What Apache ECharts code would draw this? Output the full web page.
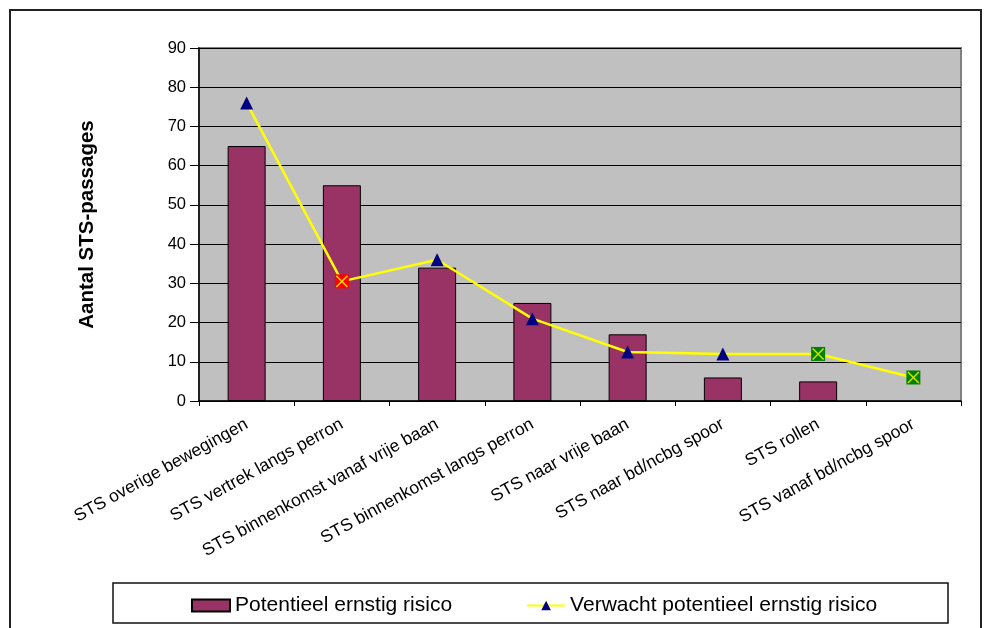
<!DOCTYPE html>
<html>
<head>
<meta charset="utf-8">
<script src="https://cdn.jsdelivr.net/npm/echarts@6/dist/echarts.min.js"></script>
<style>html,body{margin:0;padding:0;background:#fff}#c{width:986px;height:628px}</style>
</head>
<body>
<div id="c"></div>
<script>
const categories = [
  'STS overige bewegingen',
  'STS vertrek langs perron',
  'STS binnenkomst vanaf vrije baan',
  'STS binnenkomst langs perron',
  'STS naar vrije baan',
  'STS naar bd/ncbg spoor',
  'STS rollen',
  'STS vanaf bd/ncbg spoor'
];
const barValues = [65, 55, 34, 25, 17, 6, 5, null];
const lineValues = [76, 30.5, 36, 21, 12.5, 12, 12, 6];
const yTicks = [0, 10, 20, 30, 40, 50, 60, 70, 80, 90];
const barName = 'Potentieel ernstig risico';
const lineName = 'Verwacht potentieel ernstig risico';
const yAxisTitle = 'Aantal STS-passages';

const FONT = "'Liberation Sans', Arial, sans-serif";
// special marker fills per point index
const specialFill = {1: '#ff0000', 6: '#008000', 7: '#008000'};

const chart = echarts.init(document.getElementById('c'), null, {renderer: 'canvas'});
chart.setOption({
  animation: false,
  backgroundColor: '#ffffff',
  textStyle: {fontFamily: FONT},
  grid: {
    left: 199, right: 25, top: 48, bottom: 227,
    show: true, backgroundColor: '#c0c0c0', borderColor: '#808080', borderWidth: 2
  },
  legend: {
    left: 191, top: 595, padding: 0,
    itemWidth: 38, itemHeight: 12, itemGap: 74,
    textStyle: {fontFamily: FONT, fontSize: 21, color: '#000'},
    data: [{name: barName, icon: 'rect'}, {name: lineName}]
  },
  graphic: [
    {type: 'rect', shape: {x: 10, y: 10, width: 971, height: 640}, style: {fill: 'none', stroke: '#222', lineWidth: 2}, silent: true, z: 100},
    {type: 'rect', shape: {x: 113, y: 583, width: 835, height: 40}, style: {fill: 'none', stroke: '#111', lineWidth: 1.5}, silent: true, z: 100}
  ],
  xAxis: {
    type: 'category',
    data: categories,
    boundaryGap: true,
    axisLine: {lineStyle: {color: '#000', width: 1.5}},
    axisTick: {show: true, interval: 0, length: 5, lineStyle: {color: '#000'}},
    axisLabel: {interval: 0, rotate: 29, fontSize: 17.5, color: '#000', fontFamily: FONT, margin: 22}
  },
  yAxis: {
    type: 'value',
    min: yTicks[0], max: yTicks[yTicks.length - 1], interval: yTicks[1] - yTicks[0],
    axisLine: {show: true, lineStyle: {color: '#000', width: 1.5}},
    axisTick: {show: true, length: 9, lineStyle: {color: '#000'}},
    axisLabel: {fontSize: 16.5, color: '#000', fontFamily: FONT, margin: 13},
    splitLine: {show: true, lineStyle: {color: '#000', width: 1}},
    name: yAxisTitle,
    nameLocation: 'middle',
    nameRotate: 90,
    nameGap: 101,
    nameTextStyle: {fontSize: 20.5, fontWeight: 'bold', fontFamily: FONT, color: '#000'}
  },
  series: [
    {
      name: barName,
      type: 'bar',
      data: barValues,
      barWidth: 38,
      itemStyle: {color: '#993366', borderColor: '#000', borderWidth: 1}
    },
    {
      name: lineName,
      type: 'line',
      smooth: false,
      data: lineValues.map((v, i) => specialFill[i]
        ? {value: v, symbol: 'rect', symbolSize: 14, itemStyle: {color: specialFill[i]}}
        : v),
      symbol: 'triangle',
      symbolSize: 13,
      showAllSymbol: true,
      lineStyle: {color: '#ffff00', width: 2.5},
      itemStyle: {color: '#000080', borderWidth: 0},
      z: 3
    },
    {
      name: 'marker-x',
      type: 'scatter',
      data: lineValues.map((v, i) => specialFill[i] ? v : '-'),
      symbol: 'path://M0,0L10,10M10,0L0,10',
      symbolSize: 11,
      itemStyle: {color: 'none', borderColor: '#ffff00', borderWidth: 1.5},
      z: 4,
      silent: true
    }
  ]
});
</script>
</body>
</html>
